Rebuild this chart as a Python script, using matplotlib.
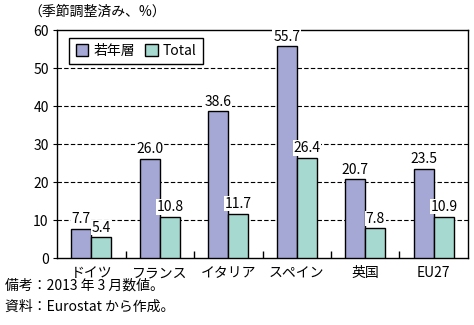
import matplotlib
matplotlib.use("Agg")
import matplotlib.pyplot as plt
import numpy as np

plt.rcParams['font.family'] = ['Noto Sans CJK JP', 'DejaVu Sans']

categories = ["ドイツ", "フランス", "イタリア", "スペイン", "英国", "EU27"]
youth = [7.7, 26.0, 38.6, 55.7, 20.7, 23.5]
total = [5.4, 10.8, 11.7, 26.4, 7.8, 10.9]
series_names = ["若年層", "Total"]
yticks = [0, 10, 20, 30, 40, 50, 60]

fig = plt.figure(figsize=(4.74, 3.25), dpi=100)
ax = fig.add_axes([57/474, 1-258/325, 411/474, 228/325])

x = np.arange(len(categories))
w = 0.295
c1 = "#a5a8d5"
c2 = "#a6d9cf"
b1 = ax.bar(x - w/2, youth, w, color=c1, edgecolor="black", linewidth=1, label=series_names[0], zorder=3)
b2 = ax.bar(x + w/2, total, w, color=c2, edgecolor="black", linewidth=1, label=series_names[1], zorder=3)

ax.set_xlim(-0.5, len(categories) - 0.5)
ax.set_ylim(0, 60)
ax.set_yticks(yticks)
ax.set_yticklabels([str(t) for t in yticks], fontsize=10)
ax.set_xticks(x)
ax.set_xticklabels(categories, fontsize=10)
ax.tick_params(axis='x', length=0, pad=6)
ax.tick_params(axis='y', length=3, direction='out', pad=3)
ax.set_xticks(np.arange(0.5, len(categories) - 0.5, 1), minor=True)
ax.tick_params(axis='x', which='minor', length=5, direction='in', width=1)
for t in yticks[1:-1]:
    ax.axhline(t, color="black", linestyle=(0, (4, 2)), linewidth=0.8, zorder=1)
for s in ax.spines.values():
    s.set_linewidth(1)

bbox = dict(facecolor="white", edgecolor="none", pad=0.5)
for bars, vals in ((b1, youth), (b2, total)):
    for r, v in zip(bars, vals):
        ax.annotate(f"{v:.1f}", (r.get_x() + r.get_width()/2, v), xytext=(0, 2),
                    textcoords="offset points", ha="center", va="bottom",
                    fontsize=10, bbox=bbox, zorder=5, annotation_clip=False)

leg = ax.legend(loc="upper left", bbox_to_anchor=(0.02, 0.985), ncol=2, fontsize=10,
                frameon=True, fancybox=False, edgecolor="black", framealpha=1,
                handlelength=0.9, handleheight=0.9, columnspacing=0.7, handletextpad=0.4,
                borderpad=0.45, borderaxespad=0.3)
leg.get_frame().set_linewidth(1)

fig.text(28/474, 1-12/325, "（季節調整済み、%）", fontsize=10, ha="left", va="center")
fig.text(5/474, 1-286/325, "備考：2013 年 3 月数値。", fontsize=10, ha="left", va="center")
fig.text(5/474, 1-307/325, "資料：Eurostat から作成。", fontsize=10, ha="left", va="center")

fig.savefig("out.png", dpi=100)
